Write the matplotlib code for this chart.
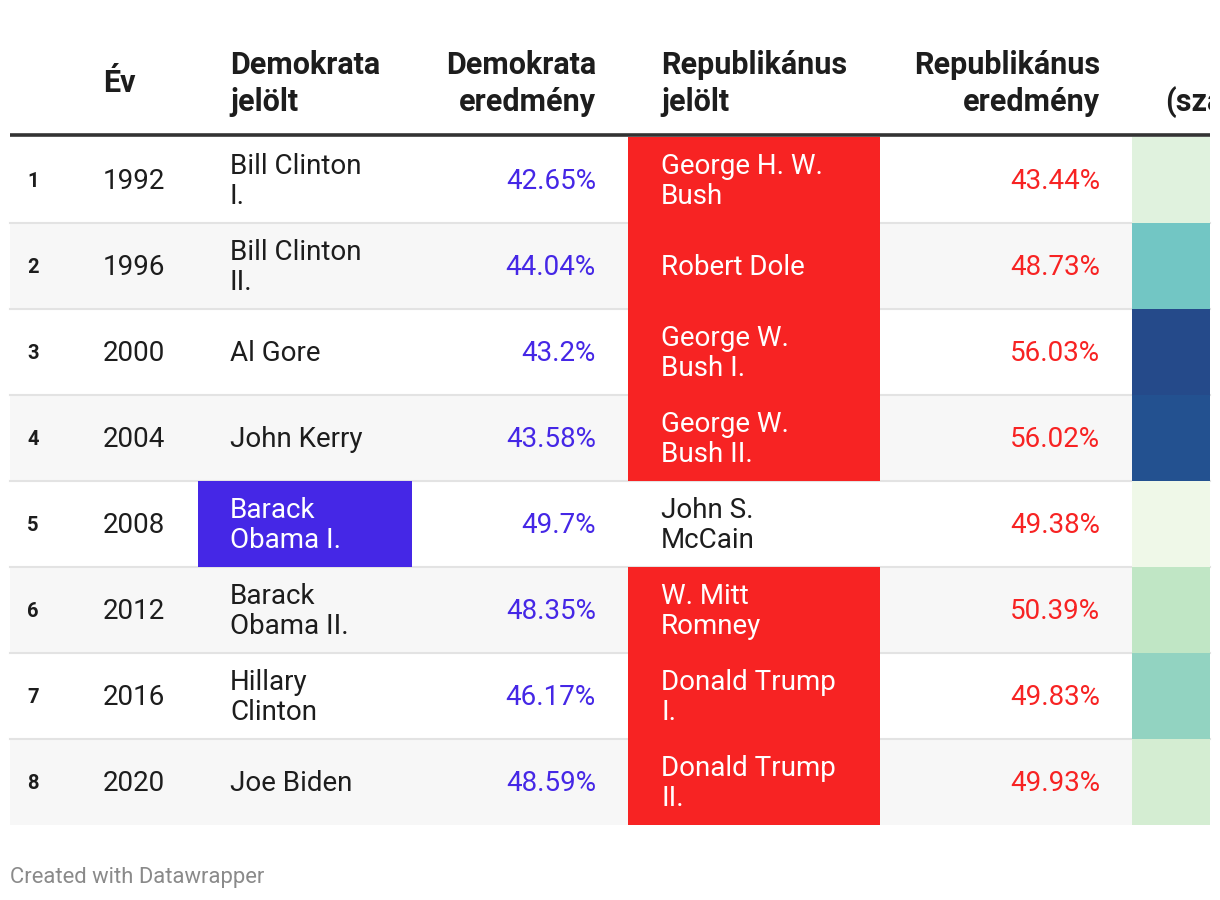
import matplotlib
matplotlib.use("Agg")
import matplotlib.pyplot as plt
from matplotlib.patches import Rectangle
from matplotlib.transforms import Bbox, TransformedBbox

plt.rcParams['font.family'] = ['Roboto', 'DejaVu Sans']

# ---- data ----
years = [1992, 1996, 2000, 2004, 2008, 2012, 2016, 2020]
dem_candidates = ["Bill Clinton\nI.", "Bill Clinton\nII.", "Al Gore", "John Kerry",
                  "Barack\nObama I.", "Barack\nObama II.", "Hillary\nClinton", "Joe Biden"]
dem_results = [42.65, 44.04, 43.2, 43.58, 49.7, 48.35, 46.17, 48.59]
rep_candidates = ["George H. W.\nBush", "Robert Dole", "George W.\nBush I.", "George W.\nBush II.",
                  "John S.\nMcCain", "W. Mitt\nRomney", "Donald Trump\nI.", "Donald Trump\nII."]
rep_results = [43.44, 48.73, 56.03, 56.02, 49.38, 50.39, 49.83, 49.93]
dem_highlight = [False, False, False, False, True, False, False, False]
rep_highlight = [True, True, True, True, False, True, True, True]
diff_colors = ["#e0f2de", "#72c6c4", "#254a8a", "#235190", "#eff8e8", "#c0e6c5", "#92d3c1", "#d4edd2"]
headers = ["", "Év", "Demokrata\njelölt", "Demokrata\neredmény", "Republikánus\njelölt",
           "Republikánus\neredmény", "Különbség\n(százalékpont)"]

# ---- style ----
W, H = 1220, 900
DEM = "#4527e6"
REP = "#f72323"
TXT = "#1d1d1d"

fig = plt.figure(figsize=(W / 100, H / 100), dpi=100)
ax = fig.add_axes([0, 0, 1, 1])
ax.set_xlim(0, W)
ax.set_ylim(H, 0)
ax.axis("off")

left, right = 10, 1210
top = 137
row_h = 86.0
fs = 20
hfs = 22

# header
hy = 83.5
hx = [28, 103, 230, 596, 661, 1100]
hal = ["left", "left", "left", "right", "left", "right"]
for x, a, t in zip(hx, hal, headers[:-1]):
    ax.text(x, hy, t, ha=a, va="center", fontsize=hfs, fontweight="bold",
            color=TXT, linespacing=1.3, multialignment=a)

# last (cut-off) header: right-aligned lines, wide second line starting at x=1165, clipped at table edge
last = ax.text(1165, hy, headers[-1], ha="left", va="center", fontsize=hfs, fontweight="bold",
               color=TXT, linespacing=1.3, multialignment="right")
last.set_clip_box(TransformedBbox(Bbox([[0, 0], [right, H]]), ax.transData))
last.set_clip_on(True)

ax.plot([left, right], [135, 135], color="#333333", lw=2.6, solid_capstyle="butt")

for i in range(len(years)):
    y0 = top + i * row_h
    yc = y0 + row_h / 2 + 1.5
    bg = "#ffffff" if i % 2 == 0 else "#f7f7f7"
    ax.add_patch(Rectangle((left, y0), right - left, row_h, color=bg, lw=0, zorder=0))
    if i > 0:
        ax.plot([left, right], [y0, y0], color="#e3e3e3", lw=1.5, zorder=1)
    ax.add_patch(Rectangle((1132, y0), right - 1132, row_h, color=diff_colors[i], lw=0, zorder=2))
    if dem_highlight[i]:
        ax.add_patch(Rectangle((198, y0), 214, row_h, color=DEM, lw=0, zorder=2))
    if rep_highlight[i]:
        ax.add_patch(Rectangle((628, y0), 252, row_h, color=REP, lw=0, zorder=2))

    ax.text(27, yc, str(i + 1), ha="left", va="center", fontsize=14.5, fontweight="bold", color=TXT, zorder=3)
    ax.text(103, yc, str(years[i]), ha="left", va="center", fontsize=fs, color=TXT, zorder=3)
    ax.text(230, yc, dem_candidates[i], ha="left", va="center", fontsize=fs,
            color="white" if dem_highlight[i] else TXT, linespacing=1.14, zorder=3)
    ax.text(596, yc, f"{dem_results[i]:g}%", ha="right", va="center", fontsize=fs, color=DEM, zorder=3)
    ax.text(661, yc, rep_candidates[i], ha="left", va="center", fontsize=fs,
            color="white" if rep_highlight[i] else TXT, linespacing=1.14, zorder=3)
    ax.text(1100, yc, f"{rep_results[i]:g}%", ha="right", va="center", fontsize=fs, color=REP, zorder=3)

ax.text(10, 877, "Created with Datawrapper", ha="left", va="center", fontsize=15.8, color="#8a8a8a")

fig.savefig("out.png", dpi=100)
